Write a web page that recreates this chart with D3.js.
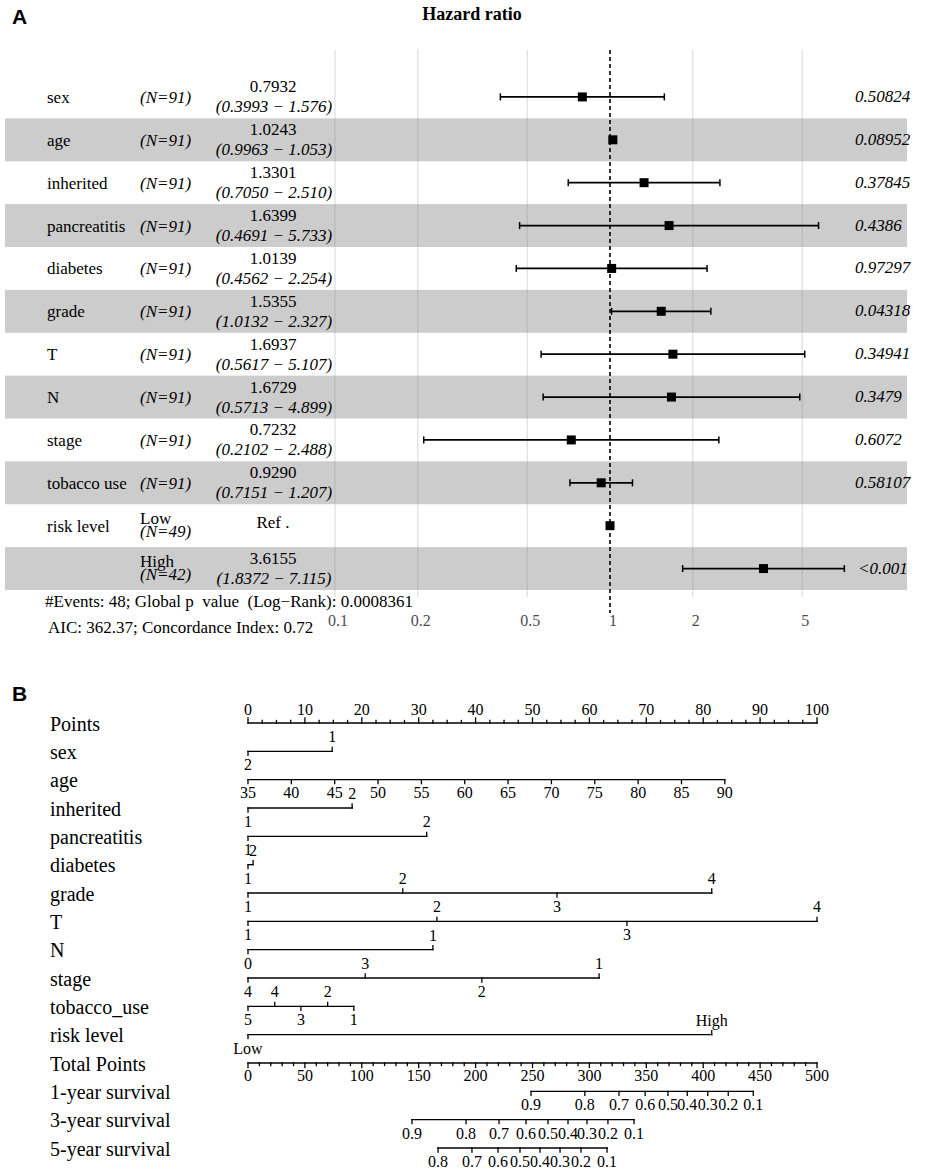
<!DOCTYPE html>
<html>
<head>
<meta charset="utf-8">
<script src="https://cdn.jsdelivr.net/npm/d3@7"></script>
<style>
  body { margin: 0; background: #fff; }
  text { font-family: "Liberation Serif", "Times New Roman", serif; }
</style>
</head>
<body>
<script>
const config = {
  width: 941,
  height: 1169
};

// ---- Panel A data (Cox model forest plot) ----
const forestVars = ["sex", "age", "inherited", "pancreatitis", "diabetes", "grade", "T", "N", "stage", "tobacco use", "risk level", ""];
const forestLevels = ["", "", "", "", "", "", "", "", "", "", "Low", "High"];
const forestN = [91, 91, 91, 91, 91, 91, 91, 91, 91, 91, 49, 42];
const hr = [0.7932, 1.0243, 1.3301, 1.6399, 1.0139, 1.5355, 1.6937, 1.6729, 0.7232, 0.9290, 1, 3.6155];
const hrLow = [0.3993, 0.9963, 0.7050, 0.4691, 0.4562, 1.0132, 0.5617, 0.5713, 0.2102, 0.7151, null, 1.8372];
const hrHigh = [1.576, 1.053, 2.510, 5.733, 2.254, 2.327, 5.107, 4.899, 2.488, 1.207, null, 7.115];
const pValues = ["0.50824", "0.08952", "0.37845", "0.4386", "0.97297", "0.04318", "0.34941", "0.3479", "0.6072", "0.58107", "", "<0.001"];
const hrTicks = [0.1, 0.2, 0.5, 1, 2, 5];
const footer = ["#Events: 48; Global p  value  (Log\u2212Rank): 0.0008361", "AIC: 362.37; Concordance Index: 0.72"];

// ---- Panel B data (nomogram) ----
const pointTicks = [0, 10, 20, 30, 40, 50, 60, 70, 80, 90, 100];
const sexLevels = ["2", "1"], sexPoints = [0, 14.8];
const ageTicks = [35, 40, 45, 50, 55, 60, 65, 70, 75, 80, 85, 90];
const ageRange = [35, 90], agePointRange = [0, 83.8];
const inheritedLevels = ["1", "2"], inheritedPoints = [0, 18.3];
const pancreatitisLevels = ["1", "2"], pancreatitisPoints = [0, 31.4];
const diabetesLevels = ["1", "2"], diabetesPoints = [0, 0.9];
const gradeLevels = ["1", "2", "3", "4"], gradePoints = [0, 27.2, 54.3, 81.5];
const tLevels = ["1", "2", "3", "4"], tPoints = [0, 33.2, 66.6, 100];
const nLevels = ["0", "1"], nPoints = [0, 32.5];
const stageLevels = ["4", "3", "2", "1"], stagePoints = [0, 20.6, 41.1, 61.7];
const tobaccoLevels = ["5", "4", "3", "2", "1"], tobaccoPoints = [0, 4.7, 9.3, 14.0, 18.6];
const riskLevels = ["Low", "High"], riskPoints = [0, 81.5];
const totalTicks = [0, 50, 100, 150, 200, 250, 300, 350, 400, 450, 500];
const survProbs1 = [0.9, 0.8, 0.7, 0.6, 0.5, 0.4, 0.3, 0.2, 0.1];
const survTotal1 = [248.7, 296, 326, 349, 369, 386, 404, 422, 444];
const survProbs3 = [0.9, 0.8, 0.7, 0.6, 0.5, 0.4, 0.3, 0.2, 0.1];
const survTotal3 = [144.1, 191.6, 220.6, 244.3, 263.6, 281.2, 297.9, 316.3, 339.2];
const survProbs5 = [0.8, 0.7, 0.6, 0.5, 0.4, 0.3, 0.2, 0.1];
const survTotal5 = [167.0, 196.8, 219.7, 239.0, 256.6, 274.2, 292.6, 315.5];
const nomoRows = ["Points", "sex", "age", "inherited", "pancreatitis", "diabetes", "grade", "T", "N", "stage",
  "tobacco_use", "risk level", "Total Points", "1-year survival", "3-year survival", "5-year survival"];

// Define the canvas
const svg = d3
  .select("body")
  .append("svg")
  .attr("width", config.width)
  .attr("height", config.height);

// Panel letters
svg.append("text").text("A").attr("x", 12).attr("y", 24)
  .style("font-family", "'Liberation Sans', Arial, sans-serif")
  .attr("font-weight", "bold").attr("font-size", "21px");
svg.append("text").text("B").attr("x", 12).attr("y", 701)
  .style("font-family", "'Liberation Sans', Arial, sans-serif")
  .attr("font-weight", "bold").attr("font-size", "21px");

// ================= Panel A =================
const x = d3.scaleLog().domain([0.1, 10]).range([335, 885]);
const rowY = d3.scaleBand().domain(d3.range(forestVars.length)).range([75.5, 590]);
const rowC = i => rowY(i) + rowY.bandwidth() / 2;
const fs = "17px";

svg.append("text")
  .text("Hazard ratio")
  .attr("x", 472).attr("y", 20)
  .attr("text-anchor", "middle")
  .attr("font-weight", "bold")
  .attr("font-size", "18px");

// zebra bands
svg.append("g")
  .selectAll("rect")
  .data(d3.range(forestVars.length).filter(i => i % 2 === 1))
  .enter()
  .append("rect")
  .attr("x", 5).attr("width", 902)
  .attr("y", i => rowY(i)).attr("height", rowY.bandwidth())
  .attr("fill", "#cccccc");

// grid lines
svg.append("g")
  .selectAll("line")
  .data(hrTicks.filter(d => d !== 1))
  .enter()
  .append("line")
  .attr("x1", d => x(d)).attr("x2", d => x(d))
  .attr("y1", 50).attr("y2", 597)
  .attr("stroke", "#8c8c8c").attr("stroke-opacity", 0.35).attr("stroke-width", 1);

// tick labels
svg.append("g")
  .selectAll("text")
  .data(hrTicks)
  .enter()
  .append("text")
  .text(d => d)
  .attr("x", d => x(d) + 3).attr("y", 626)
  .attr("text-anchor", "middle")
  .attr("font-size", "16px")
  .attr("fill", "#4d4d4d");

// reference line at HR = 1
svg.append("line")
  .attr("x1", x(1)).attr("x2", x(1))
  .attr("y1", 50).attr("y2", 613)
  .attr("stroke", "#000").attr("stroke-width", 1.6)
  .attr("stroke-dasharray", "4,3");

const rows = svg.append("g")
  .selectAll("g")
  .data(d3.range(forestVars.length))
  .enter()
  .append("g");

// variable names
rows.append("text")
  .text(i => forestVars[i])
  .attr("x", 47).attr("y", i => rowC(i) + 6)
  .attr("font-size", fs);

// level labels
rows.filter(i => forestLevels[i] !== "")
  .append("text")
  .text(i => forestLevels[i])
  .attr("x", 140).attr("y", i => rowC(i) - 2)
  .attr("font-size", fs);

// N
rows.append("text")
  .text(i => "(N=" + forestN[i] + ")")
  .attr("x", 140).attr("y", i => rowC(i) + (forestLevels[i] !== "" ? 11 : 6))
  .attr("font-style", "italic")
  .attr("font-size", fs);

// HR and CI
rows.append("text")
  .text(i => hrLow[i] === null ? "Ref ." : d3.format(".4f")(hr[i]))
  .attr("x", 273).attr("y", i => rowC(i) + (hrLow[i] === null ? 2 : -4.5))
  .attr("text-anchor", "middle")
  .attr("font-size", fs);
rows.filter(i => hrLow[i] !== null)
  .append("text")
  .text(i => "(" + d3.format(".4f")(hrLow[i]) + " \u2212 " + d3.format(".3f")(hrHigh[i]) + ")")
  .attr("x", 274).attr("y", i => rowC(i) + 15.5)
  .attr("text-anchor", "middle")
  .attr("font-style", "italic")
  .attr("font-size", fs);

// p values
rows.append("text")
  .text(i => pValues[i])
  .attr("x", i => pValues[i][0] === "<" ? 858 : 855)
  .attr("y", i => rowC(i) + 5)
  .attr("font-style", "italic")
  .attr("font-size", fs);

// confidence intervals
const ci = rows.filter(i => hrLow[i] !== null);
ci.append("line")
  .attr("x1", i => x(hrLow[i])).attr("x2", i => x(hrHigh[i]))
  .attr("y1", rowC).attr("y2", rowC)
  .attr("stroke", "#000").attr("stroke-width", 1.8);
ci.append("line")
  .attr("x1", i => x(hrLow[i])).attr("x2", i => x(hrLow[i]))
  .attr("y1", i => rowC(i) - 3.5).attr("y2", i => rowC(i) + 3.5)
  .attr("stroke", "#000").attr("stroke-width", 1.5);
ci.append("line")
  .attr("x1", i => x(hrHigh[i])).attr("x2", i => x(hrHigh[i]))
  .attr("y1", i => rowC(i) - 3.5).attr("y2", i => rowC(i) + 3.5)
  .attr("stroke", "#000").attr("stroke-width", 1.5);

// point estimates
rows.append("rect")
  .attr("x", i => x(hr[i]) - 4.5).attr("y", i => rowC(i) - 4.5)
  .attr("width", 9).attr("height", 9)
  .attr("fill", "#000");

// footer
svg.append("text").text(footer[0]).attr("x", 45).attr("y", 607)
  .attr("font-size", fs).style("white-space", "pre");
svg.append("text").text(footer[1]).attr("x", 48).attr("y", 633)
  .attr("font-size", fs).style("white-space", "pre");

// ================= Panel B =================
const pts = d3.scaleLinear().domain([0, 100]).range([248, 817]);
const tot = d3.scaleLinear().domain([0, 500]).range([248, 817]);
const ny = d3.scalePoint().domain(nomoRows).range([723, 1148]);
const nomo = svg.append("g").attr("stroke-linecap", "square");
const lw = 1.3;
const tfs = "16px";

// row labels
nomo.selectAll("text.lab")
  .data(nomoRows)
  .enter()
  .append("text")
  .attr("class", "lab")
  .text(d => d)
  .attr("x", 50).attr("y", d => ny(d) + 7.5)
  .attr("font-size", "20px");

// Points axis (labels above)
const yP = ny("Points");
nomo.append("line").attr("x1", pts(0)).attr("x2", pts(100)).attr("y1", yP).attr("y2", yP)
  .attr("stroke", "#000").attr("stroke-width", lw);
nomo.selectAll("line.pminor")
  .data(d3.range(0, 100.01, 2.5))
  .enter()
  .append("line")
  .attr("x1", d => pts(d)).attr("x2", d => pts(d))
  .attr("y1", yP).attr("y2", d => yP - (d % 10 === 0 ? 5 : 2.5))
  .attr("stroke", "#000").attr("stroke-width", lw);
nomo.selectAll("text.pt")
  .data(pointTicks)
  .enter()
  .append("text")
  .text(d => d)
  .attr("x", d => pts(d)).attr("y", yP - 8)
  .attr("text-anchor", "middle")
  .attr("font-size", tfs);

// categorical scales: labels alternate below / above by rank
function catAxis(name, levels, points) {
  const y = ny(name);
  const order = d3.range(levels.length).sort((a, b) => points[a] - points[b]);
  const g = nomo.append("g");
  g.append("line")
    .attr("x1", pts(d3.min(points))).attr("x2", pts(d3.max(points)))
    .attr("y1", y).attr("y2", y)
    .attr("stroke", "#000").attr("stroke-width", lw);
  order.forEach((k, r) => {
    const up = r % 2 === 1;
    g.append("line")
      .attr("x1", pts(points[k])).attr("x2", pts(points[k]))
      .attr("y1", y).attr("y2", up ? y - 4 : y + 4)
      .attr("stroke", "#000").attr("stroke-width", lw);
    g.append("text")
      .text(levels[k])
      .attr("x", pts(points[k])).attr("y", up ? y - 9 : y + 19)
      .attr("text-anchor", "middle")
      .attr("font-size", tfs);
  });
}

catAxis("sex", sexLevels, sexPoints);

// age (continuous, labels below)
const agePts = d3.scaleLinear().domain(ageRange).range(agePointRange);
const yA = ny("age");
nomo.append("line").attr("x1", pts(agePts(35))).attr("x2", pts(agePts(90))).attr("y1", yA).attr("y2", yA)
  .attr("stroke", "#000").attr("stroke-width", lw);
nomo.selectAll("line.age")
  .data(ageTicks)
  .enter()
  .append("line")
  .attr("x1", d => pts(agePts(d))).attr("x2", d => pts(agePts(d)))
  .attr("y1", yA).attr("y2", yA + 4)
  .attr("stroke", "#000").attr("stroke-width", lw);
nomo.selectAll("text.age")
  .data(ageTicks)
  .enter()
  .append("text")
  .text(d => d)
  .attr("x", d => pts(agePts(d))).attr("y", yA + 18)
  .attr("text-anchor", "middle")
  .attr("font-size", tfs);

catAxis("inherited", inheritedLevels, inheritedPoints);
catAxis("pancreatitis", pancreatitisLevels, pancreatitisPoints);
catAxis("diabetes", diabetesLevels, diabetesPoints);
catAxis("grade", gradeLevels, gradePoints);
catAxis("T", tLevels, tPoints);
catAxis("N", nLevels, nPoints);
catAxis("stage", stageLevels, stagePoints);
catAxis("tobacco_use", tobaccoLevels, tobaccoPoints);
catAxis("risk level", riskLevels, riskPoints);

// Total Points axis (labels below)
const yT = ny("Total Points");
nomo.append("line").attr("x1", tot(0)).attr("x2", tot(500)).attr("y1", yT).attr("y2", yT)
  .attr("stroke", "#000").attr("stroke-width", lw);
nomo.selectAll("line.tminor")
  .data(d3.range(0, 500.01, 10))
  .enter()
  .append("line")
  .attr("x1", d => tot(d)).attr("x2", d => tot(d))
  .attr("y1", yT).attr("y2", d => yT + (d % 50 === 0 ? 4.5 : 2.5))
  .attr("stroke", "#000").attr("stroke-width", lw);
nomo.selectAll("text.tt")
  .data(totalTicks)
  .enter()
  .append("text")
  .text(d => d)
  .attr("x", d => tot(d)).attr("y", yT + 18)
  .attr("text-anchor", "middle")
  .attr("font-size", tfs);

// survival scales
function survAxis(name, probs, totals) {
  const y = ny(name);
  const g = nomo.append("g");
  g.append("line")
    .attr("x1", tot(d3.min(totals))).attr("x2", tot(d3.max(totals)))
    .attr("y1", y).attr("y2", y)
    .attr("stroke", "#000").attr("stroke-width", lw);
  totals.forEach((t, k) => {
    g.append("line")
      .attr("x1", tot(t)).attr("x2", tot(t))
      .attr("y1", y).attr("y2", y + 4)
      .attr("stroke", "#000").attr("stroke-width", lw);
    g.append("text")
      .text(probs[k])
      .attr("x", tot(t)).attr("y", y + 19)
      .attr("text-anchor", "middle")
      .attr("font-size", tfs);
  });
}

survAxis("1-year survival", survProbs1, survTotal1);
survAxis("3-year survival", survProbs3, survTotal3);
survAxis("5-year survival", survProbs5, survTotal5);
</script>
</body>
</html>
